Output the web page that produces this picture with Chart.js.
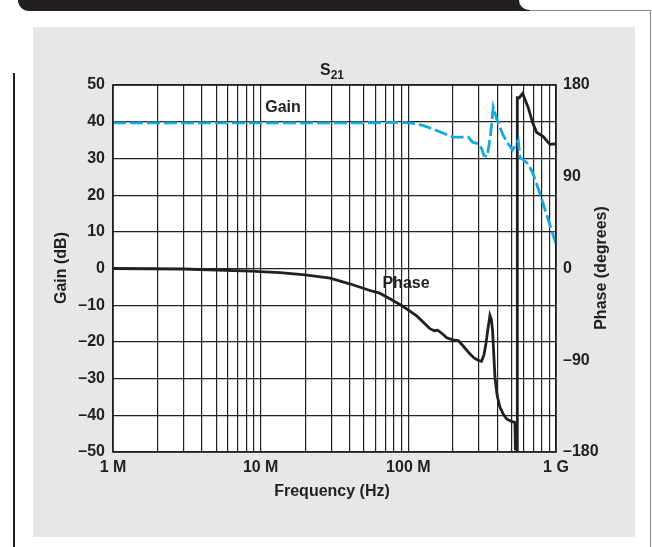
<!DOCTYPE html>
<html><head><meta charset="utf-8">
<script src="https://cdn.jsdelivr.net/npm/chart.js@4.4.1/dist/chart.umd.min.js"></script>
<style>
html,body{margin:0;padding:0;background:#fff;width:652px;height:547px;overflow:hidden;position:relative}
.d{position:absolute}
</style></head><body>
<div class="d" style="left:18px;top:0;width:520px;height:11px;background:#231f20;border-bottom-left-radius:12px"></div>
<div class="d" style="left:519px;top:0;width:140px;height:10px;background:#fff;border-bottom-left-radius:13px"></div>
<div class="d" style="left:530px;top:10px;width:120px;height:540px;border-top:1px solid #8a8a8a;border-right:1px solid #8a8a8a"></div>
<div class="d" style="left:13px;top:73px;width:1.5px;height:474px;background:#231f20"></div>
<div class="d" style="left:33px;top:27px;width:602px;height:510px;background:#e6e7e8"></div>
<canvas id="c" width="652" height="547" style="position:absolute;left:0;top:0"></canvas>
<script>
// ---- data (frequency in MHz) ----
const gainFreqMHz = [1, 10, 50, 90, 105, 126, 160, 200, 255, 272, 300, 315, 325, 342, 361, 376, 396, 440, 475, 508, 540, 555, 570, 649, 700, 780, 860, 1000];
const gainDb      = [39.7, 39.7, 39.7, 39.8, 39.6, 39.0, 37.4, 35.8, 35.8, 34.4, 34.0, 32.5, 30.8, 30.5, 36.7, 44.0, 40.8, 36.2, 34.0, 32.3, 34.0, 34.9, 30.3, 28.5, 25.8, 20.3, 14.9, 6.7];

const phaseFreqMHz = [1, 3, 8.5, 13.5, 20, 29.5, 40, 55, 64, 75, 90, 102, 115, 140, 150, 158, 170, 182, 200, 218, 235, 261, 280, 297, 313, 325, 335, 347, 357, 365, 372, 386, 400, 417, 440, 463, 500, 527, 531, 534, 541, 545, 547, 564, 594, 648, 694, 738, 820, 910, 955, 1000];
const phaseDeg     = [0, -0.5, -2.6, -4, -6.2, -9.5, -15, -21.6, -24.2, -29.7, -36.3, -41.5, -47, -59, -61, -60.5, -64, -68, -70, -70.6, -76, -83.7, -88, -90, -91, -85, -74, -58, -46, -50, -61, -106.6, -125, -136, -143, -147.6, -150, -151, -177, -153, -152, -180, 167.5, 167.5, 171.6, 158, 143.4, 133.7, 129.5, 121.6, 122.3, 122];

const freqDecadesHz = [1e6, 1e7, 1e8];
const freqGridMultipliers = [1, 2, 3, 4, 5, 6, 7, 8, 9];
const freqLabelValues = [1e6, 1e7, 1e8, 1e9];
const freqLabels = ['1 M', '10 M', '100 M', '1 G'];
const gainTicks = [-50, -40, -30, -20, -10, 0, 10, 20, 30, 40, 50];
const phaseTicks = [-180, -90, 0, 90, 180];

const INK = '#231f20';
const FONT = "'Liberation Sans', Arial, Helvetica, sans-serif";
const gridValues = [];
freqDecadesHz.forEach(d => freqGridMultipliers.forEach(m => gridValues.push(d * m)));
gridValues.push(1e9);

const fmt = v => (v < 0 ? '\u2013' + Math.abs(v) : String(v));

const deco = {
  id: 'deco',
  beforeDraw(chart) {
    const { ctx, chartArea: a } = chart;
    ctx.save();
    ctx.fillStyle = '#fff';
    ctx.fillRect(a.left, a.top, a.right - a.left, a.bottom - a.top);
    ctx.restore();
  },
  afterDraw(chart) {
    const { ctx, chartArea: a } = chart;
    ctx.save();
    ctx.strokeStyle = INK;
    ctx.lineWidth = 1.6;
    ctx.strokeRect(a.left, a.top, a.right - a.left, a.bottom - a.top);
    ctx.fillStyle = INK;
    ctx.font = 'bold 16px ' + FONT;
    ctx.textBaseline = 'middle';
    ctx.textAlign = 'center';
    ctx.fillText('Gain', 283, 108);
    ctx.fillText('Phase', 406, 284);
    ctx.fillText('Frequency (Hz)', 332, 492);
    // title S21
    ctx.textBaseline = 'alphabetic';
    ctx.textAlign = 'left';
    ctx.font = 'bold 16px ' + FONT;
    const sW = ctx.measureText('S').width;
    ctx.font = 'bold 12px ' + FONT;
    const subW = ctx.measureText('21').width;
    const x0 = 332 - (sW + subW) / 2;
    ctx.font = 'bold 16px ' + FONT;
    ctx.fillText('S', x0, 75);
    ctx.font = 'bold 12px ' + FONT;
    ctx.fillText('21', x0 + sW, 79);
    // axis titles
    ctx.font = 'bold 16px ' + FONT;
    ctx.textAlign = 'center';
    ctx.textBaseline = 'middle';
    ctx.save(); ctx.translate(62, 268); ctx.rotate(-Math.PI / 2); ctx.fillText('Gain (dB)', 0, 0); ctx.restore();
    ctx.save(); ctx.translate(602, 268); ctx.rotate(-Math.PI / 2); ctx.fillText('Phase (degrees)', 0, 0); ctx.restore();
    ctx.restore();
  }
};

Chart.defaults.font.family = FONT;
Chart.defaults.font.size = 16;
Chart.defaults.font.weight = 'bold';
Chart.defaults.color = INK;

new Chart(document.getElementById('c'), {
  type: 'line',
  data: {
    datasets: [
      {
        label: 'Gain',
        data: gainFreqMHz.map((f, i) => ({ x: f * 1e6, y: gainDb[i] })),
        yAxisID: 'y',
        borderColor: '#14a8e0',
        borderWidth: 2.8,
        borderDash: [13, 4],
        pointRadius: 0,
        tension: 0,
        fill: false,
        order: 0
      },
      {
        label: 'Phase',
        data: phaseFreqMHz.map((f, i) => ({ x: f * 1e6, y: phaseDeg[i] })),
        yAxisID: 'y2',
        borderColor: INK,
        borderWidth: 2.8,
        pointRadius: 0,
        tension: 0,
        fill: false,
        order: 1
      }
    ]
  },
  options: {
    responsive: false,
    animation: false,
    layout: { padding: { top: 85, left: 0, right: 0, bottom: 65 } },
    plugins: { legend: { display: false }, tooltip: { enabled: false }, title: { display: false } },
    scales: {
      x: {
        type: 'logarithmic',
        min: 1e6, max: 1e9,
        afterBuildTicks: s => { s.ticks = gridValues.map(v => ({ value: v })); },
        afterFit: s => { s.height = 30; },
        grid: { color: '#222', lineWidth: 1.2, drawTicks: false },
        border: { display: false },
        ticks: {
          autoSkip: false, maxRotation: 0, padding: 6,
          callback: v => { const i = freqLabelValues.indexOf(v); return i >= 0 ? freqLabels[i] : ''; }
        }
      },
      y: {
        position: 'left',
        min: -50, max: 50,
        afterBuildTicks: s => { s.ticks = gainTicks.map(v => ({ value: v })); },
        afterFit: s => { s.width = 113; },
        grid: { color: '#222', lineWidth: 1.2, drawTicks: false },
        border: { display: false },
        ticks: { padding: 8, callback: v => fmt(v) }
      },
      y2: {
        position: 'right',
        min: -180, max: 180,
        afterBuildTicks: s => { s.ticks = phaseTicks.map(v => ({ value: v })); },
        afterFit: s => { s.width = 96; },
        grid: { display: false, drawTicks: false },
        border: { display: false },
        ticks: { padding: 7, callback: v => fmt(v) }
      }
    }
  },
  plugins: [deco]
});
</script>
</body></html>
